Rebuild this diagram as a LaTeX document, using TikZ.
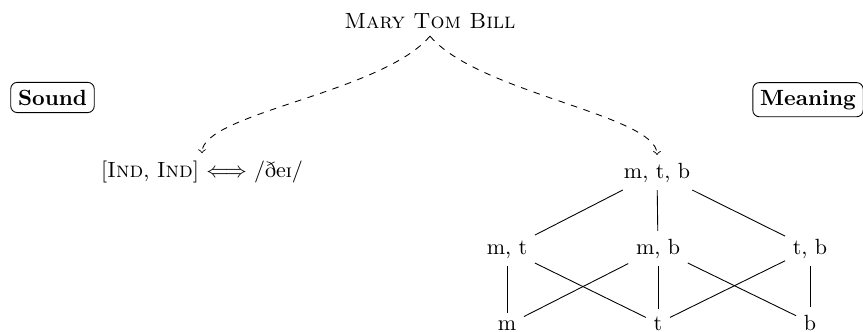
\documentclass[tikz,border=0pt]{standalone}
\usepackage{tipa}
\begin{document}
\begin{tikzpicture}[x=0.4545pt,y=-0.4545pt,
  lbl/.style={anchor=base},
  tag/.style={anchor=base,draw,rounded corners=3pt,font=\bfseries},
  dasharrow/.style={->,dashed}]
\useasboundingbox (0,0) rectangle (863,331);
\node[lbl] (top) at (430,28) {\textsc{Mary Tom Bill}};
\node[tag] (sound) at (52.5,105) {Sound};
\node[tag] (meaning) at (808,105) {Meaning};
\node[lbl] (left) at (202,177.5) {[\textsc{Ind}, \textsc{Ind}] $\Longleftrightarrow$ \textipa{/DeI/}};
\node[lbl] (mtb) at (657,178) {m, t, b};
\node[lbl] (mt) at (507,254) {m, t};
\node[lbl] (mb) at (658,254) {m, b};
\node[lbl] (tb) at (810,254) {t, b};
\node[lbl] (m) at (507,330) {m};
\node[lbl] (t) at (658,330) {t};
\node[lbl] (b) at (810,330) {b};
\draw[dasharrow] (top.south) .. controls +(-48,57) and +(0,-40) .. (left.north);
\draw[dasharrow] (top.south) .. controls +(48,57) and +(0,-40) .. (mtb.north);
\draw (mtb) -- (mt);
\draw (mtb) -- (mb);
\draw (mtb) -- (tb);
\draw (mt) -- (m);
\draw (mt) -- (t);
\draw (mb) -- (m);
\draw (mb) -- (t);
\draw (mb) -- (b);
\draw (tb) -- (t);
\draw (tb) -- (b);
\end{tikzpicture}
\end{document}
